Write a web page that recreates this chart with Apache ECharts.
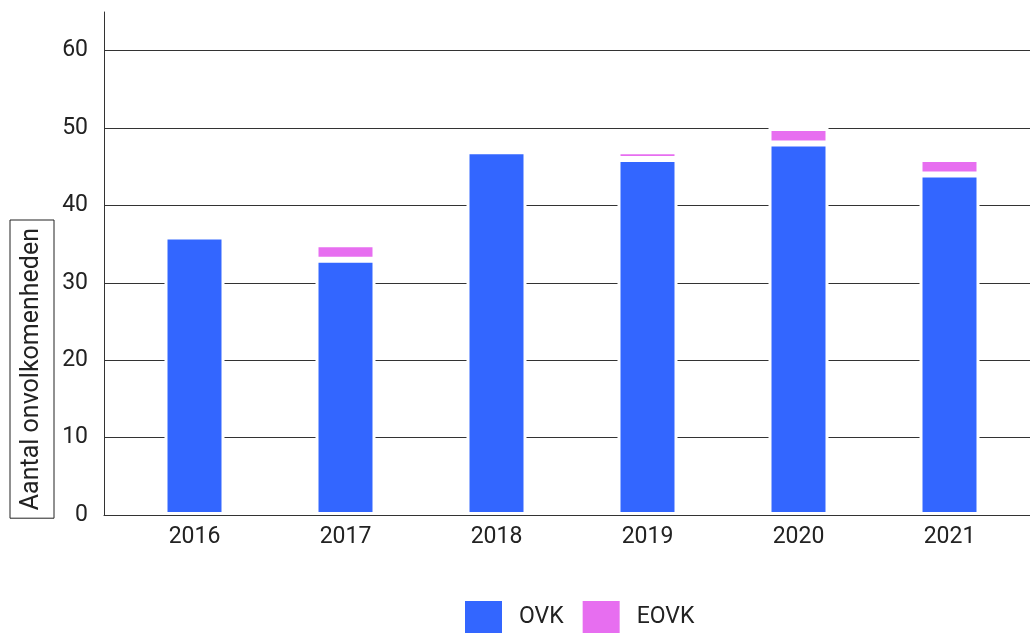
<!DOCTYPE html>
<html>
<head>
<meta charset="utf-8">
<script src="https://cdn.jsdelivr.net/npm/echarts@6/dist/echarts.min.js"></script>
<style>
  html, body { margin: 0; padding: 0; background: #fff; }
  #chart { width: 1030px; height: 634px; }
</style>
</head>
<body>
<div id="chart"></div>
<script>
// jaren en aantallen
const years = ["2016", "2017", "2018", "2019", "2020", "2021"];
const ovk = [36, 33, 47, 46, 48, 44];
const eovk = [0, 2, 0, 1, 2, 2];

const font = "Roboto";
const lineColor = "#333";

let chart = echarts.init(document.getElementById("chart"));

let option = {
  animation: false,
  grid: [{
    // staven
    left: 119,
    right: 5,
    top: 12,
    bottom: 119
  }, {
    // assen en rasterlijnen
    left: 104,
    right: 0,
    top: 12,
    bottom: 119
  }],
  legend: {
    left: 463,
    top: 599,
    padding: 0,
    itemWidth: 39,
    itemHeight: 34,
    itemGap: 17,
    icon: "rect",
    data: ["OVK", "EOVK"],
    textStyle: {
      fontFamily: font,
      fontSize: 23,
      color: "#222",
      padding: [0, 0, 0, 11]
    }
  },
  xAxis: [{
    type: "category",
    gridIndex: 0,
    data: years,
    axisLine: { show: false },
    axisTick: { show: false },
    splitLine: { show: false },
    axisLabel: {
      margin: 11,
      fontFamily: font,
      fontSize: 23,
      color: "#222"
    }
  }, {
    type: "value",
    gridIndex: 1,
    min: 0,
    max: 1,
    z: 3,
    axisLine: { show: true, lineStyle: { color: lineColor, width: 1 } },
    axisTick: { show: false },
    axisLabel: { show: false },
    splitLine: { show: false }
  }],
  yAxis: [{
    type: "value",
    gridIndex: 0,
    min: 0,
    max: 65,
    show: false
  }, {
    type: "value",
    gridIndex: 1,
    min: 0,
    max: 65,
    interval: 10,
    axisLine: { show: true, onZero: false, lineStyle: { color: lineColor, width: 1 } },
    axisTick: { show: false },
    splitLine: { show: true, showMaxLine: false, lineStyle: { color: lineColor, width: 1 } },
    axisLabel: {
      showMaxLabel: false,
      margin: 16,
      fontFamily: font,
      fontSize: 23,
      color: "#222"
    }
  }, {
    // alleen voor de asnaam
    type: "value",
    gridIndex: 1,
    position: "left",
    offset: 72,
    min: 0,
    max: 65,
    axisLine: { show: false, onZero: false },
    axisTick: { show: false },
    axisLabel: { show: false },
    splitLine: { show: false },
    name: "Aantal onvolkomenheden",
    nameLocation: "start",
    nameRotate: 90,
    nameGap: -295,
    nameTextStyle: {
      fontFamily: font,
      fontSize: 25,
      color: "#222",
      lineHeight: 24,
      borderColor: "#222",
      borderWidth: 1,
      padding: [10, 8]
    }
  }],
  series: [{
    name: "OVK",
    type: "bar",
    xAxisIndex: 0,
    yAxisIndex: 0,
    stack: "totaal",
    barWidth: 60,
    itemStyle: { color: "#3366ff", borderColor: "#fff", borderWidth: 3 },
    data: ovk
  }, {
    name: "EOVK",
    type: "bar",
    xAxisIndex: 0,
    yAxisIndex: 0,
    stack: "totaal",
    barWidth: 60,
    itemStyle: { color: "#e76ef0", borderColor: "#fff", borderWidth: 3 },
    data: eovk
  }]
};

chart.setOption(option);
</script>
</body>
</html>
